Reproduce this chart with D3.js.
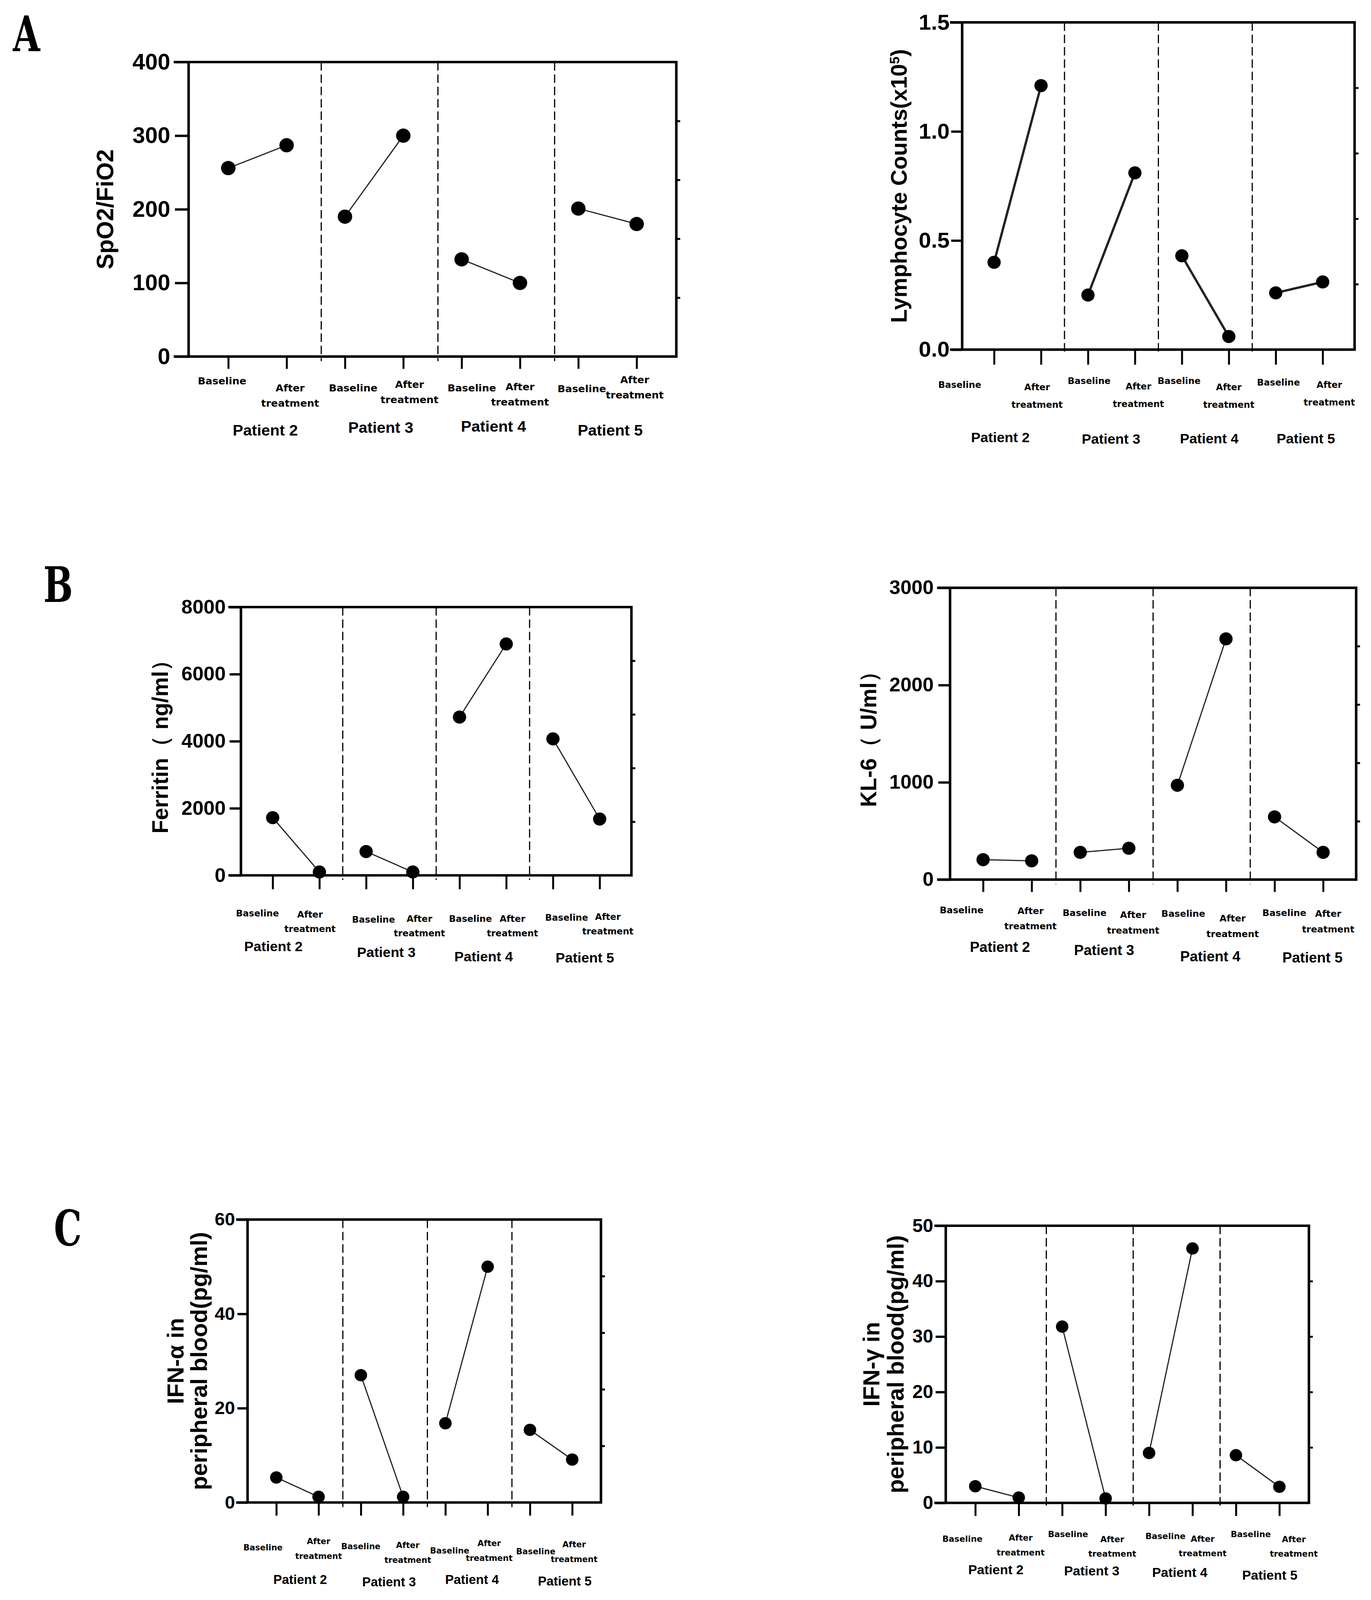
<!DOCTYPE html>
<html>
<head>
<meta charset="utf-8">
<script src="https://cdn.jsdelivr.net/npm/d3@7"></script>
<style>
  html, body { margin: 0; padding: 0; overflow: hidden; background: #fff; }
  svg { display: block; }
</style>
</head>
<body>
<script>
// values, one array per series
const patients = ["Patient 2", "Patient 3", "Patient 4", "Patient 5"];
const timepoints = ["Baseline", "After treatment"];

const spo2Base = [256, 190, 132, 201];
const spo2After = [287, 300, 100, 180];
const spo2Ticks = [0, 100, 200, 300, 400];

const lymphBase = [0.40, 0.25, 0.43, 0.26];
const lymphAfter = [1.21, 0.81, 0.06, 0.31];
const lymphTicks = [0, 0.5, 1.0, 1.5];

const ferritinBase = [1720, 710, 4720, 4070];
const ferritinAfter = [100, 100, 6900, 1680];
const ferritinTicks = [0, 2000, 4000, 6000, 8000];

const kl6Base = [205, 280, 970, 645];
const kl6After = [193, 322, 2475, 280];
const kl6Ticks = [0, 1000, 2000, 3000];

const ifnaBase = [5.3, 27, 16.8, 15.4];
const ifnaAfter = [1.2, 1.2, 50, 9.1];
const ifnaTicks = [0, 20, 40, 60];

const ifngBase = [3.0, 31.8, 9.0, 8.6];
const ifngAfter = [0.95, 0.8, 45.9, 2.9];
const ifngTicks = [0, 10, 20, 30, 40, 50];

const W = 3511, H = 4151;
// fill whatever viewport we get, in reference pixel units
const svg = d3.select("body").append("svg")
    .attr("viewBox", `0 0 ${W} ${H}`)
    .attr("preserveAspectRatio", "none")
    .style("width", "100vw").style("height", "100vh");

const numFont = "'Liberation Sans', Arial, sans-serif";
const catFontFam = "'DejaVu Sans', Verdana, sans-serif";

// panel layout (pixels) kept apart from the data;
// bDx/bDy = Baseline label nudges, aDx/aDy = After treatment, pDx/pDy = patient label
const panels = [
  { base: spo2Base, after: spo2After, ticks: spo2Ticks, fmt: d3.format("d"),
    title: [[{ t: "SpO2/FiO2" }]], titleSize: 61, titleBase: 290, lineGap: 60,
    L: 483, R: 1732, T: 161, B: 925, r: 18.5, lw: 3, divShift: 14,
    yTick: 35, yPad: 12, tickFont: 58, catFont: 26, patFont: 40, tickLen: 32, treatGap: 40,
    bDx: [-16, 21, 26, 9], bDy: [72, 90, 90, 92],
    aDx: [9, 16, 0, -5], aDy: [90, 81, 87, 69],
    pDx: [20, 17, 7, 7], pDy: [205, 198, 195, 205] },
  { base: lymphBase, after: lymphAfter, ticks: lymphTicks, fmt: d3.format(".1f"),
    title: [[{ t: "Lymphocyte Counts(x10" }, { t: "5", sup: true }, { t: ")" }]], titleSize: 58, titleBase: 2322, lineGap: 60,
    L: 2464, R: 3469, T: 58, B: 907, r: 17, lw: 6, divShift: 0,
    yTick: 28, yPad: 4, tickFont: 57, catFont: 23, patFont: 36, tickLen: 39, treatGap: 46,
    bDx: [-88, 3, -7, 7], bDy: [99, 89, 89, 93],
    aDx: [-10, 9, 0, 17], aDy: [105, 103, 105, 99],
    pDx: [-44, -1, 10, 17], pDy: [240, 244, 243, 243] },
  { base: ferritinBase, after: ferritinAfter, ticks: ferritinTicks, fmt: d3.format("d"),
    title: [[{ t: "Ferritin（ ng/ml）" }]], titleSize: 57, titleBase: 430, lineGap: 60,
    L: 617, R: 1617, T: 1575, B: 2271, r: 17, lw: 3, divShift: 0,
    yTick: 29, yPad: 10, tickFont: 51, catFont: 23, patFont: 36, tickLen: 36, treatGap: 37,
    bDx: [-39, 19, 28, 35], bDy: [107, 123, 121, 118],
    aDx: [-24, 17, 16, 21], aDy: [110, 121, 121, 116],
    pDx: [-58, -8, 2, 22], pDy: [197, 212, 223, 226] },
  { base: kl6Base, after: kl6After, ticks: kl6Ticks, fmt: d3.format("d"),
    title: [[{ t: "KL-6（ U/ml）" }]], titleSize: 57, titleBase: 2244, lineGap: 60,
    L: 2433, R: 3473, T: 1525, B: 2282, r: 17, lw: 3, divShift: 0,
    yTick: 30, yPad: 12, tickFont: 51, catFont: 23.5, patFont: 37, tickLen: 32, treatGap: 40,
    bDx: [-55, 11, 15, 25], bDy: [87, 95, 97, 95],
    aDx: [-3, 11, 17, 13], aDy: [89, 100, 109, 97],
    pDx: [-19, -1, 22, 35], pDy: [188, 196, 212, 215] },
  { base: ifnaBase, after: ifnaAfter, ticks: ifnaTicks, fmt: d3.format("d"),
    title: [[{ t: "IFN-α in" }], [{ t: "peripheral blood(pg/ml)" }]], titleSize: 60, titleBase: 530, lineGap: 60,
    L: 634, R: 1539, T: 3164, B: 3898, r: 16, lw: 3, divShift: 8,
    yTick: 26, yPad: 6, tickFont: 47, catFont: 21, patFont: 33, tickLen: 34, treatGap: 39,
    bDx: [-34, 0, 11, 15], bDy: [124, 121, 132, 134],
    aDx: [0, 12, 4, 5], aDy: [108, 118, 113, 116],
    pDx: [7, 18, 14, 35], pDy: [211, 218, 211, 216] },
  { base: ifngBase, after: ifngAfter, ticks: ifngTicks, fmt: d3.format("d"),
    title: [[{ t: "IFN-γ in" }], [{ t: "peripheral blood(pg/ml)" }]], titleSize: 60, titleBase: 2314, lineGap: 62,
    L: 2422, R: 3352, T: 3180, B: 3899, r: 16, lw: 3, divShift: 15,
    yTick: 26, yPad: 6, tickFont: 48, catFont: 21.5, patFont: 34, tickLen: 34, treatGap: 38,
    bDx: [-33, 15, 42, 38], bDy: [101, 89, 94, 89],
    aDx: [5, 17, 26, 37], aDy: [98, 102, 101, 102],
    pDx: [-3, 20, 23, 31], pDy: [185, 188, 192, 199] }
];

panels.forEach(function (p) {
  const g = svg.append("g");

  const keys = [];
  patients.forEach(function (pt) {
    timepoints.forEach(function (tp) { keys.push(pt + "|" + tp); });
  });

  const x = d3.scalePoint().domain(keys).range([p.L, p.R]).padding(0.68);
  const y = d3.scaleLinear().domain([d3.min(p.ticks), d3.max(p.ticks)]).range([p.B, p.T]);

  // dashed separators between patients
  for (let i = 1; i < patients.length; i++) {
    const xs = (x(keys[2 * i - 1]) + x(keys[2 * i])) / 2 + p.divShift;
    g.append("line")
      .attr("x1", xs).attr("x2", xs)
      .attr("y1", p.T).attr("y2", p.B + 12)
      .attr("stroke", "#000").attr("stroke-width", 3)
      .attr("stroke-dasharray", "22,10");
  }

  // left axis
  const ay = g.append("g")
    .attr("transform", `translate(${p.L},0)`)
    .call(d3.axisLeft(y).tickValues(p.ticks).tickFormat(p.fmt)
      .tickSize(p.yTick).tickPadding(p.yPad).tickSizeOuter(0));
  ay.select(".domain").remove();
  ay.selectAll(".tick line").attr("stroke", "#000").attr("stroke-width", 6);
  ay.selectAll(".tick text")
    .attr("fill", "#000")
    .style("font-family", numFont)
    .style("font-weight", "bold")
    .style("font-size", p.tickFont + "px");

  // minor ticks on the right border
  const yr = d3.scaleLinear().domain([0, 5]).range([p.B, p.T]);
  const ar = g.append("g")
    .attr("transform", `translate(${p.R},0)`)
    .call(d3.axisRight(yr).tickValues([1, 2, 3, 4]).tickSize(10).tickFormat(""));
  ar.select(".domain").remove();
  ar.selectAll(".tick line").attr("stroke", "#000").attr("stroke-width", 5);

  // bottom category ticks
  const ax = g.append("g")
    .attr("transform", `translate(0,${p.B})`)
    .call(d3.axisBottom(x).tickSize(p.tickLen).tickFormat("").tickSizeOuter(0));
  ax.select(".domain").remove();
  ax.selectAll(".tick line").attr("stroke", "#000").attr("stroke-width", 5);

  // frame
  g.append("path")
    .attr("d", `M${p.L - p.yTick},${p.T}H${p.R}V${p.B}H${p.L - p.yTick}M${p.L},${p.T}V${p.B}`)
    .attr("fill", "none").attr("stroke", "#000").attr("stroke-width", 6.5)
    .attr("stroke-linecap", "square");

  // category labels
  patients.forEach(function (pt, i) {
    const bx = x(pt + "|" + timepoints[0]) + p.bDx[i];
    const axx = x(pt + "|" + timepoints[1]) + p.aDx[i];
    g.append("text")
      .attr("x", bx).attr("y", p.B + p.bDy[i])
      .attr("text-anchor", "middle")
      .style("font-family", catFontFam)
      .style("font-weight", "bold")
      .style("font-size", p.catFont + "px")
      .text(timepoints[0]);
    const words = timepoints[1].split(" ");
    const t = g.append("text")
      .attr("text-anchor", "middle")
      .style("font-family", catFontFam)
      .style("font-weight", "bold")
      .style("font-size", p.catFont + "px");
    words.forEach(function (w, wi) {
      t.append("tspan").attr("x", axx).attr("y", p.B + p.aDy[i] + wi * p.treatGap).text(w);
    });
  });

  // patient labels
  patients.forEach(function (pt, i) {
    const cx = (x(pt + "|" + timepoints[0]) + x(pt + "|" + timepoints[1])) / 2 + p.pDx[i];
    g.append("text")
      .attr("x", cx).attr("y", p.B + p.pDy[i])
      .attr("text-anchor", "middle")
      .style("font-family", numFont)
      .style("font-weight", "bold")
      .style("font-size", p.patFont + "px")
      .text(pt);
  });

  // paired lines and points
  const pairs = patients.map(function (pt, i) {
    return [
      { k: pt + "|" + timepoints[0], v: p.base[i] },
      { k: pt + "|" + timepoints[1], v: p.after[i] }
    ];
  });
  const line = d3.line().x(d => x(d.k)).y(d => y(d.v));
  g.selectAll(".pair").data(pairs).enter().append("path")
    .attr("d", line)
    .attr("fill", "none").attr("stroke", "#222").attr("stroke-width", p.lw);
  g.selectAll(".dot").data(pairs.flat()).enter().append("circle")
    .attr("cx", d => x(d.k)).attr("cy", d => y(d.v))
    .attr("r", p.r).attr("fill", "#000");

  // y-axis title (rotated), titleBase = baseline of the last line
  const cy = (p.T + p.B) / 2;
  const n = p.title.length;
  p.title.forEach(function (segs, li) {
    const tx = p.titleBase - (n - 1 - li) * p.lineGap;
    const t = g.append("text")
      .attr("transform", `translate(${tx},${cy}) rotate(-90)`)
      .attr("text-anchor", "middle")
      .style("font-family", numFont)
      .style("font-weight", "bold")
      .style("font-size", p.titleSize + "px");
    segs.forEach(function (s) {
      const ts = t.append("tspan").text(s.t);
      if (s.sup) ts.attr("baseline-shift", "super").style("font-size", (p.titleSize * 0.6) + "px");
    });
  });
});

// panel letters
const letters = ["A", "B", "C"];
const letterPos = [[33, 133], [111, 1562], [138, 3231]];
letters.forEach(function (l, i) {
  svg.append("text")
    .attr("transform", `translate(${letterPos[i][0]},${letterPos[i][1]}) scale(0.7,1)`)
    .style("font-family", "'DejaVu Serif', 'Liberation Serif', serif")
    .style("font-weight", "bold")
    .style("font-size", "128px")
    .text(l);
});
</script>
</body>
</html>
